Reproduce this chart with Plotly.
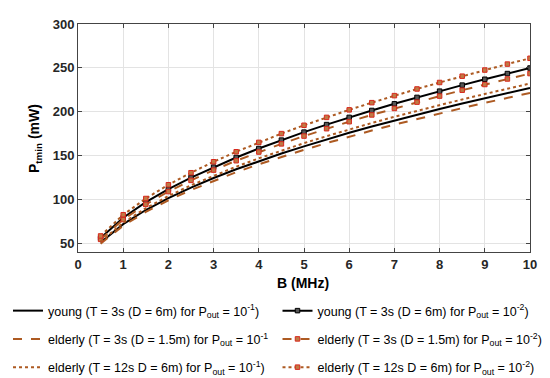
import plotly.graph_objects as go

B = [0.5, 1, 1.5, 2, 2.5, 3, 3.5, 4, 4.5, 5, 5.5, 6, 6.5, 7, 7.5, 8, 8.5, 9, 9.5, 10]

young_1 = [50.8, 71.8, 87.9, 101.5, 113.5, 124.4, 134.3, 143.6, 152.3, 160.5, 168.4, 175.9, 183.1, 190.0, 196.6, 203.1, 209.3, 215.4, 221.3, 227.1]
young_2 = [55.9, 79.0, 96.8, 111.7, 124.9, 136.8, 147.8, 158.0, 167.6, 176.7, 185.3, 193.5, 201.4, 209.0, 216.3, 223.4, 230.3, 237.0, 243.5, 249.8]
eld3_1 = [49.5, 70.0, 85.7, 99.0, 110.7, 121.2, 131.0, 140.0, 148.5, 156.5, 164.2, 171.5, 178.5, 185.2, 191.7, 198.0, 204.1, 210.0, 215.8, 221.4]
eld3_2 = [54.4, 77.0, 94.3, 108.9, 121.7, 133.4, 144.1, 154.0, 163.3, 172.2, 180.6, 188.6, 196.3, 203.7, 210.9, 217.8, 224.5, 231.0, 237.3, 243.5]
eld12_1 = [51.9, 73.4, 89.9, 103.8, 116.1, 127.1, 137.3, 146.8, 155.7, 164.1, 172.1, 179.8, 187.1, 194.2, 201.0, 207.6, 214.0, 220.2, 226.2, 232.1]
eld12_2 = [58.3, 82.5, 101.0, 116.7, 130.4, 142.9, 154.3, 165.0, 175.0, 184.5, 193.5, 202.1, 210.3, 218.3, 225.9, 233.3, 240.5, 247.5, 254.3, 260.9]

names = [
    "young (T = 3s (D = 6m) for P<sub>out</sub> = 10<sup>-1</sup>)",
    "young (T = 3s (D = 6m) for P<sub>out</sub> = 10<sup>-2</sup>)",
    "elderly (T = 3s (D = 1.5m) for P<sub>out</sub> = 10<sup>-1</sup>",
    "elderly (T = 3s (D = 1.5m) for P<sub>out</sub> = 10<sup>-2</sup>)",
    "elderly (T = 12s D = 6m) for P<sub>out</sub> = 10<sup>-1</sup>)",
    "elderly (T = 12s D = 6m) for P<sub>out</sub> = 10<sup>-2</sup>)",
]

x_ticks = [0, 1, 2, 3, 4, 5, 6, 7, 8, 9, 10]
y_ticks = [50, 100, 150, 200, 250, 300]
x_title = "<b>B (MHz)</b>"
y_title = "<b>P<sub>tmin</sub> (mW)</b>"

BLACK = "#000000"
BROWN = "#AD5A22"
RED = "#D8281E"

fig = go.Figure()
series = [
    (young_1, names[0], BLACK, "solid", False, BLACK, "legend"),
    (young_2, names[1], BLACK, "solid", True, BLACK, "legend2"),
    (eld3_1, names[2], BROWN, "dash", False, RED, "legend"),
    (eld3_2, names[3], BROWN, "dash", True, RED, "legend2"),
    (eld12_1, names[4], BROWN, "dot", False, RED, "legend"),
    (eld12_2, names[5], BROWN, "dot", True, RED, "legend2"),
]
for i, (ys, nm, col, dash, mk, mcol, lg) in enumerate(series):
    fig.add_trace(go.Scatter(
        x=B, y=ys, name=nm, legend=lg, legendgroup=f"g{i}",
        mode="lines+markers" if mk else "lines",
        line=dict(color=col, width=2, dash=dash),
        marker=dict(symbol="square", size=4.5,
                    color="#BF7A44" if col != BLACK else "#555555",
                    line=dict(color=mcol, width=1)),
    ))

font_fam = "Liberation Sans, Arial, sans-serif"
leg_common = dict(
    orientation="v", xref="container", yref="container",
    yanchor="top", xanchor="left",
    font=dict(size=12.5, color="#000000", family=font_fam),
    bgcolor="rgba(0,0,0,0)", itemwidth=30, tracegroupgap=9,
)
PW = 550 - 70 - 28
PH = 378 - 16 - 134
fig.update_layout(
    width=550, height=378,
    margin=dict(l=70, r=28, t=16, b=134, autoexpand=False),
    paper_bgcolor="white", plot_bgcolor="white",
    font=dict(family=font_fam, color="#262626"),
    showlegend=True,
    legend=dict(x=0.0, y=1 - 288 / 378, **leg_common),
    legend2=dict(x=0.49, y=1 - 288 / 378, **leg_common),
    xaxis=dict(
        range=[0, 10], tickvals=x_ticks,
        ticks="inside", ticklen=4, tickcolor="#444444",
        showline=True, linecolor="#444444", linewidth=1, mirror="ticks",
        showgrid=True, gridcolor="#E3E3E3", gridwidth=1, zeroline=False,
        tickfont=dict(size=13, family=font_fam, color="#262626", weight="bold"),
    ),
    yaxis=dict(
        range=[40, 300], tickvals=y_ticks,
        ticks="inside", ticklen=4, tickcolor="#444444",
        showline=True, linecolor="#444444", linewidth=1, mirror="ticks",
        showgrid=True, gridcolor="#E3E3E3", gridwidth=1, zeroline=False,
        tickfont=dict(size=13, family=font_fam, color="#262626", weight="bold"),
    ),
    annotations=[
        dict(text=x_title, xref="paper", yref="paper", x=(295 - 70) / PW, y=(244 - 275) / PH,
             xanchor="center", yanchor="middle", showarrow=False,
             font=dict(size=14, color="#000000", family=font_fam)),
        dict(text=y_title, xref="paper", yref="paper", x=(27 - 70) / PW, y=(244 - 131) / PH,
             xanchor="center", yanchor="middle", showarrow=False, textangle=-90,
             font=dict(size=14, color="#000000", family=font_fam)),
    ],
)

fig.write_html("out.html")
